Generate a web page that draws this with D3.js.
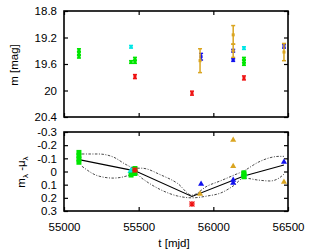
<!DOCTYPE html>
<html>
<head>
<meta charset="utf-8">
<script src="https://cdn.jsdelivr.net/npm/d3@7"></script>
<style>
body { margin: 0; background: #fff; }
text { font-family: "Liberation Sans", Arial, sans-serif; font-size: 11.5px; fill: #000; }
</style>
</head>
<body>
<div class="chart"></div>
<script>
var width = 320, height = 250;
var left = 64, right = 288;
var top1 = 11, bottom1 = 117;   // light curve panel
var top2 = 132, bottom2 = 211;  // residual panel
var tick = 4;

var xTicks = [55000, 55500, 56000, 56500];
var magTicks = [18.8, 19.2, 19.6, 20, 20.4];
var resTicks = [-0.3, -0.2, -0.1, 0, 0.1, 0.2, 0.3];
var resTickLabels = ["-0.3", "-0.2", "-0.1", "0", "0.1", "0.2", "0.3"];

// light curves, rows of [t, m, err]
var cyan   = [[55449, 19.34, 0.02], [56205, 19.36, 0.02]];
var green  = [[55100, 19.39, 0.02], [55100, 19.44, 0.02], [55100, 19.49, 0.02],
              [55449, 19.57, 0.02], [55475, 19.52, 0.02], [55475, 19.57, 0.02],
              [56205, 19.52, 0.02], [56205, 19.56, 0.02], [56205, 19.60, 0.02]];
var red    = [[55475, 19.79, 0.03], [55857, 20.04, 0.03], [56205, 19.81, 0.03]];
var blue   = [[55918, 19.49, 0.05], [56133, 19.40, 0.02], [56133, 19.54, 0.02], [56473, 19.33, 0.03]];
var orange = [[55911, 19.55, 0.18], [56133, 19.16, 0.14], [56133, 19.40, 0.10], [56473, 19.42, 0.13]];

// residuals, rows of [t, m - mu]
var cyanRes   = [[55449, -0.004], [56205, 0.02]];
var greenRes  = [[55100, -0.145], [55100, -0.12], [55100, -0.095], [55100, -0.07],
                 [55449, 0.027], [55475, -0.023], [55475, 0.015],
                 [56205, 0.01], [56205, 0.025], [56205, 0.04]];
var redRes    = [[55475, -0.011], [55857, 0.247]];
var blueRes   = [[55918, 0.095], [56133, 0.065], [56133, 0.087], [56473, -0.072]];
var orangeRes = [[55911, 0.17], [56133, -0.24], [56133, -0.04], [56473, 0.08]];

// mean curve and its envelope
var meanT = [55100, 55475, 55857, 56205, 56473];
var meanV = [-0.09, -0.005, 0.19, 0.034, -0.05];
var bandT  = [55120, 55230, 55330, 55420, 55475, 55520, 55650, 55760, 55857, 55960, 56050, 56133, 56205, 56300, 56380, 56440, 56473];
var upperV = [-0.133, -0.133, -0.11, -0.05, -0.025, -0.025, 0.027, 0.09, 0.18, 0.11, 0.07, 0.03, -0.005, -0.07, -0.105, -0.115, -0.115];
var lowerV = [-0.04, 0.034, 0.05, 0.034, 0.01, 0.05, 0.14, 0.186, 0.2, 0.186, 0.163, 0.11, 0.05, 0.065, 0.072, 0.05, 0.02];

var colors = { cyan: "#00e6e6", green: "#00e600", red: "#ee1111", blue: "#1111ee", orange: "#daa520" };

var svg = d3.select(".chart").append("svg")
	.attr("width", width)
	.attr("height", height);

var x = d3.scaleLinear().domain([55000, 56500]).range([left, right]);
var yMag = d3.scaleLinear().domain([18.8, 20.4]).range([top1, bottom1]);
var yRes = d3.scaleLinear().domain([-0.3, 0.3]).range([top2, bottom2]);

function frame(yTop, yBot, yScale, yVals, yFmt, showX) {
	var g = svg.append("g");
	g.append("g").attr("transform", "translate(0," + yBot + ")")
		.call(d3.axisBottom(x).tickValues(xTicks).tickSize(-tick).tickSizeOuter(0).tickPadding(12)
			.tickFormat(showX ? d3.format("d") : ""));
	g.append("g").attr("transform", "translate(0," + yTop + ")")
		.call(d3.axisTop(x).tickValues(xTicks).tickSize(-tick).tickSizeOuter(0).tickFormat(""));
	g.append("g").attr("transform", "translate(" + left + ",0)")
		.call(d3.axisLeft(yScale).tickValues(yVals).tickSize(-tick).tickSizeOuter(0).tickPadding(7).tickFormat(yFmt));
	g.append("g").attr("transform", "translate(" + right + ",0)")
		.call(d3.axisRight(yScale).tickValues(yVals).tickSize(-tick).tickSizeOuter(0).tickFormat(""));
	g.selectAll(".domain").remove();
	g.selectAll(".tick line").attr("stroke", "#000").attr("stroke-width", 1.2);
	g.selectAll(".tick text").attr("font-size", null).attr("font-family", null);
	svg.append("rect")
		.attr("x", left).attr("y", yTop)
		.attr("width", right - left).attr("height", yBot - yTop)
		.attr("fill", "none").attr("stroke", "#000").attr("stroke-width", 1.6);
}

frame(top1, bottom1, yMag, magTicks, d3.format(""), false);
frame(top2, bottom2, yRes, resTicks, function (d, i) { return resTickLabels[i]; }, true);

// top panel: error bars
function errbars(data, col) {
	var g = svg.append("g").attr("stroke", col).attr("stroke-width", 1.5);
	data.forEach(function (d) {
		var cx = x(d[0]), y0 = yMag(d[1] - d[2]), y1 = yMag(d[1] + d[2]);
		g.append("line").attr("x1", cx).attr("x2", cx).attr("y1", y0).attr("y2", y1);
		g.append("line").attr("x1", cx - 2).attr("x2", cx + 2).attr("y1", y0).attr("y2", y0);
		g.append("line").attr("x1", cx - 2).attr("x2", cx + 2).attr("y1", y1).attr("y2", y1);
		g.append("rect").attr("x", cx - 1.5).attr("y", yMag(d[1]) - 1.5)
			.attr("width", 3).attr("height", 3).attr("fill", col).attr("stroke", "none");
	});
}
errbars(cyan, colors.cyan);
errbars(green, colors.green);
errbars(red, colors.red);
errbars(blue, colors.blue);
errbars(orange, colors.orange);

// bottom panel: envelope and mean
var band = d3.line().curve(d3.curveMonotoneX)
	.x(function (d) { return x(d[0]); }).y(function (d) { return yRes(d[1]); });
svg.append("path").datum(d3.zip(bandT, upperV)).attr("d", band)
	.attr("fill", "none").attr("stroke", "#333").attr("stroke-width", 0.9).attr("stroke-dasharray", "2.5,1.5,1,1.5");
svg.append("path").datum(d3.zip(bandT, lowerV)).attr("d", band)
	.attr("fill", "none").attr("stroke", "#333").attr("stroke-width", 0.9).attr("stroke-dasharray", "2.5,1.5,1,1.5");
svg.append("path").datum(d3.zip(meanT, meanV))
	.attr("d", d3.line().x(function (d) { return x(d[0]); }).y(function (d) { return yRes(d[1]); }))
	.attr("fill", "none").attr("stroke", "#000").attr("stroke-width", 1.1);

function markers(data, col, type, size) {
	svg.append("g").selectAll("path").data(data).enter().append("path")
		.attr("transform", function (d) { return "translate(" + x(d[0]) + "," + yRes(d[1]) + ")"; })
		.attr("d", d3.symbol().type(type).size(size))
		.attr("fill", col);
}
markers(cyanRes, colors.cyan, d3.symbolTriangle, 22);
markers(greenRes, colors.green, d3.symbolSquare, 25);
svg.append("g").selectAll("path").data(redRes).enter().append("path")
	.attr("transform", function (d) { return "translate(" + x(d[0]) + "," + yRes(d[1]) + ")"; })
	.attr("d", "M-2.5,-2.5L2.5,2.5M-2.5,2.5L2.5,-2.5M0,-3L0,3M-3,0L3,0")
	.attr("stroke", colors.red).attr("stroke-width", 1.2).attr("fill", "none");
markers(blueRes, colors.blue, d3.symbolTriangle, 16);
markers(orangeRes, colors.orange, d3.symbolTriangle, 16);

// axis titles
svg.append("text").attr("transform", "translate(18,65) rotate(-90)")
	.attr("text-anchor", "middle").text("m [mag]");
var lab = svg.append("text").attr("transform", "translate(25,172) rotate(-90)")
	.attr("text-anchor", "middle");
lab.append("tspan").text("m");
lab.append("tspan").attr("dy", 3).attr("font-size", "8px").text("λ");
lab.append("tspan").attr("dy", -3).text(" -μ");
lab.append("tspan").attr("dy", 3).attr("font-size", "8px").text("λ");
svg.append("text").attr("x", 174).attr("y", 247)
	.attr("text-anchor", "middle").text("t [mjd]");
</script>
</body>
</html>
